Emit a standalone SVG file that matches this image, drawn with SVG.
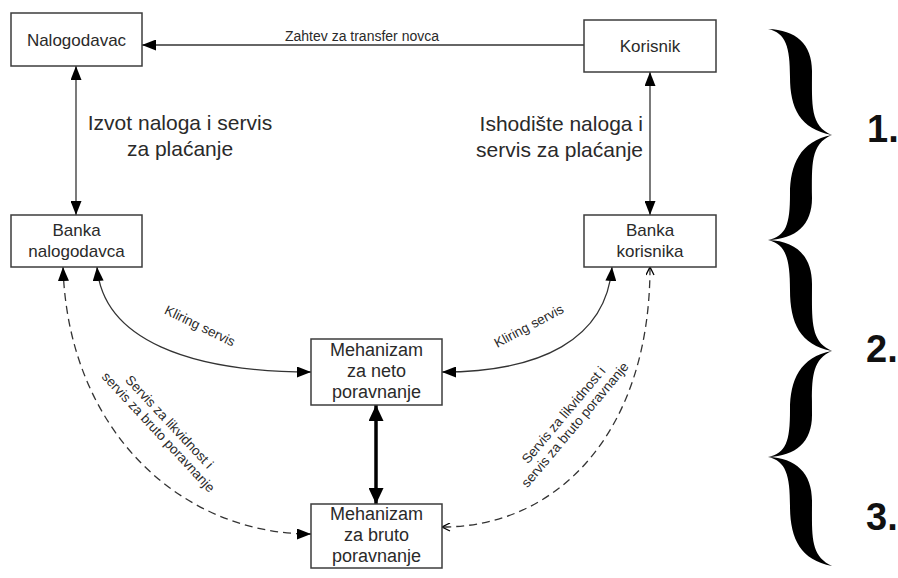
<svg xmlns="http://www.w3.org/2000/svg" width="898" height="578" viewBox="0 0 898 578">
  <style>
    .box { fill: #fff; stroke: #3c3c3c; stroke-width: 1.5; }
    .lbl { font-family: "Liberation Sans", Arial, sans-serif; fill: #2a2a2a; }
    .node { font-size: 17px; text-anchor: middle; }
    .mech { font-size: 18px; text-anchor: middle; }
    .big { font-size: 21px; }
    .small { font-size: 13.5px; }
    .num { font-family: "Liberation Sans", Arial, sans-serif; font-weight: bold; font-size: 38px; fill: #111; }
    .conn { fill: none; stroke: #333; stroke-width: 1.3; }
    .dash { stroke-dasharray: 8 5; }
    .thick { fill: none; stroke: #000; stroke-width: 3.5; }
    .brace { fill: #000; }
  </style>
  <defs>
    <marker id="arr" markerUnits="userSpaceOnUse" markerWidth="14" markerHeight="11" refX="14" refY="5.5" orient="auto-start-reverse">
      <path d="M0,0 L14,5.5 L0,11 z" fill="#000"/>
    </marker>
    <marker id="arrBig" markerUnits="userSpaceOnUse" markerWidth="16" markerHeight="15" refX="16" refY="7.5" orient="auto-start-reverse">
      <path d="M0,0 L16,7.5 L0,15 z" fill="#000"/>
    </marker>
    <marker id="arrOpen" markerUnits="userSpaceOnUse" markerWidth="10" markerHeight="9" refX="9" refY="4.5" orient="auto-start-reverse">
      <path d="M1,0.5 L9,4.5 L1,8.5" fill="none" stroke="#000" stroke-width="1.3"/>
    </marker>
  </defs>

  <!-- connectors -->
  <g id="connectors">
    <line class="conn" x1="584" y1="45" x2="142" y2="45" marker-end="url(#arr)"/>
    <line class="conn" x1="76" y1="66" x2="76" y2="215" marker-start="url(#arr)" marker-end="url(#arr)"/>
    <line class="conn" x1="650" y1="72" x2="650" y2="215" marker-start="url(#arr)" marker-end="url(#arr)"/>
    <path class="conn" d="M97,267 C103,340 190,372 311,372" marker-start="url(#arr)" marker-end="url(#arr)"/>
    <path class="conn" d="M612,267 C606,340 540,372 442,372" marker-start="url(#arr)" marker-end="url(#arr)"/>
    <path class="conn dash" d="M63,267 C68,430 180,534 311,534" marker-start="url(#arr)" marker-end="url(#arr)"/>
    <path class="conn dash" d="M650,267 C650,430 560,527 442,527" marker-start="url(#arrOpen)" marker-end="url(#arrOpen)"/>
    <line class="thick" x1="376" y1="405" x2="376" y2="504" marker-start="url(#arrBig)" marker-end="url(#arrBig)"/>

    <text class="lbl" x="362" y="41" font-size="14" text-anchor="middle">Zahtev za transfer novca</text>
    <text class="lbl big" x="180" y="130" text-anchor="middle">Izvot naloga i servis</text>
    <text class="lbl big" x="180" y="156" text-anchor="middle">za plaćanje</text>
    <text class="lbl big" x="643" y="131" text-anchor="end">Ishodište naloga i</text>
    <text class="lbl big" x="643" y="157" text-anchor="end">servis za plaćanje</text>
    <text class="lbl small" text-anchor="middle" transform="translate(198,330) rotate(26)">Kliring servis</text>
    <text class="lbl small" text-anchor="middle" transform="translate(531,330) rotate(-28)">Kliring servis</text>
    <text class="lbl small" text-anchor="middle" transform="translate(166,425) rotate(47)">Servis za likvidnost i<tspan x="0" dy="15">servis za bruto poravnanje</tspan></text>
    <text class="lbl small" text-anchor="middle" transform="translate(567,418) rotate(-50)">Servis za likvidnost i<tspan x="0" dy="15">servis za bruto poravnanje</tspan></text>
  </g>

  <!-- nodes -->
  <g id="nalogodavac">
    <rect class="box" x="11" y="13" width="131" height="53"/>
    <text class="lbl node" x="76.5" y="46">Nalogodavac</text>
  </g>
  <g id="korisnik">
    <rect class="box" x="584" y="20" width="132" height="52"/>
    <text class="lbl node" x="650" y="52">Korisnik</text>
  </g>
  <g id="banka-nalogodavca">
    <rect class="box" x="11" y="215" width="131" height="52"/>
    <text class="lbl node" x="76.5" y="236">Banka</text>
    <text class="lbl node" x="76.5" y="257">nalogodavca</text>
  </g>
  <g id="banka-korisnika">
    <rect class="box" x="584" y="215" width="132" height="52"/>
    <text class="lbl node" x="650" y="236">Banka</text>
    <text class="lbl node" x="650" y="257">korisnika</text>
  </g>
  <g id="neto">
    <rect class="box" x="311" y="339" width="131" height="66"/>
    <text class="lbl mech" x="376.5" y="356">Mehanizam</text>
    <text class="lbl mech" x="376.5" y="377">za neto</text>
    <text class="lbl mech" x="376.5" y="398">poravnanje</text>
  </g>
  <g id="bruto">
    <rect class="box" x="311" y="504" width="131" height="64"/>
    <text class="lbl mech" x="376.5" y="520">Mehanizam</text>
    <text class="lbl mech" x="376.5" y="541">za bruto</text>
    <text class="lbl mech" x="376.5" y="562">poravnanje</text>
  </g>

  <!-- phase braces -->
  <g id="phases">
    <path class="brace" d="M768,29 C796,30 812,44 812,71 C812,105 810,126 832,135 C810,144 812,165 812,198 C812,225 796,239 768,240 C786,236 790,225 790,194 C790,165 800,141 832,135 C800,129 790,108 790,77 C790,47 786,33 768,29 Z"/>
    <path class="brace" d="M768,240 C796,241 812,256 812,284 C812,320 810,342 832,351 C810,360 812,382 812,415 C812,442 796,456 768,457 C786,453 790,442 790,410 C790,380 800,357 832,351 C800,345 790,323 790,290 C790,259 786,244 768,240 Z"/>
    <path class="brace" d="M768,457 C796,458 812,473 812,501 C812,536 810,556 832,566 C800,560 790,538 790,506 C790,475 786,461 768,457 Z"/>
    <text class="num" x="867" y="142">1.</text>
    <text class="num" x="866" y="362">2.</text>
    <text class="num" x="866" y="530">3.</text>
  </g>
</svg>
